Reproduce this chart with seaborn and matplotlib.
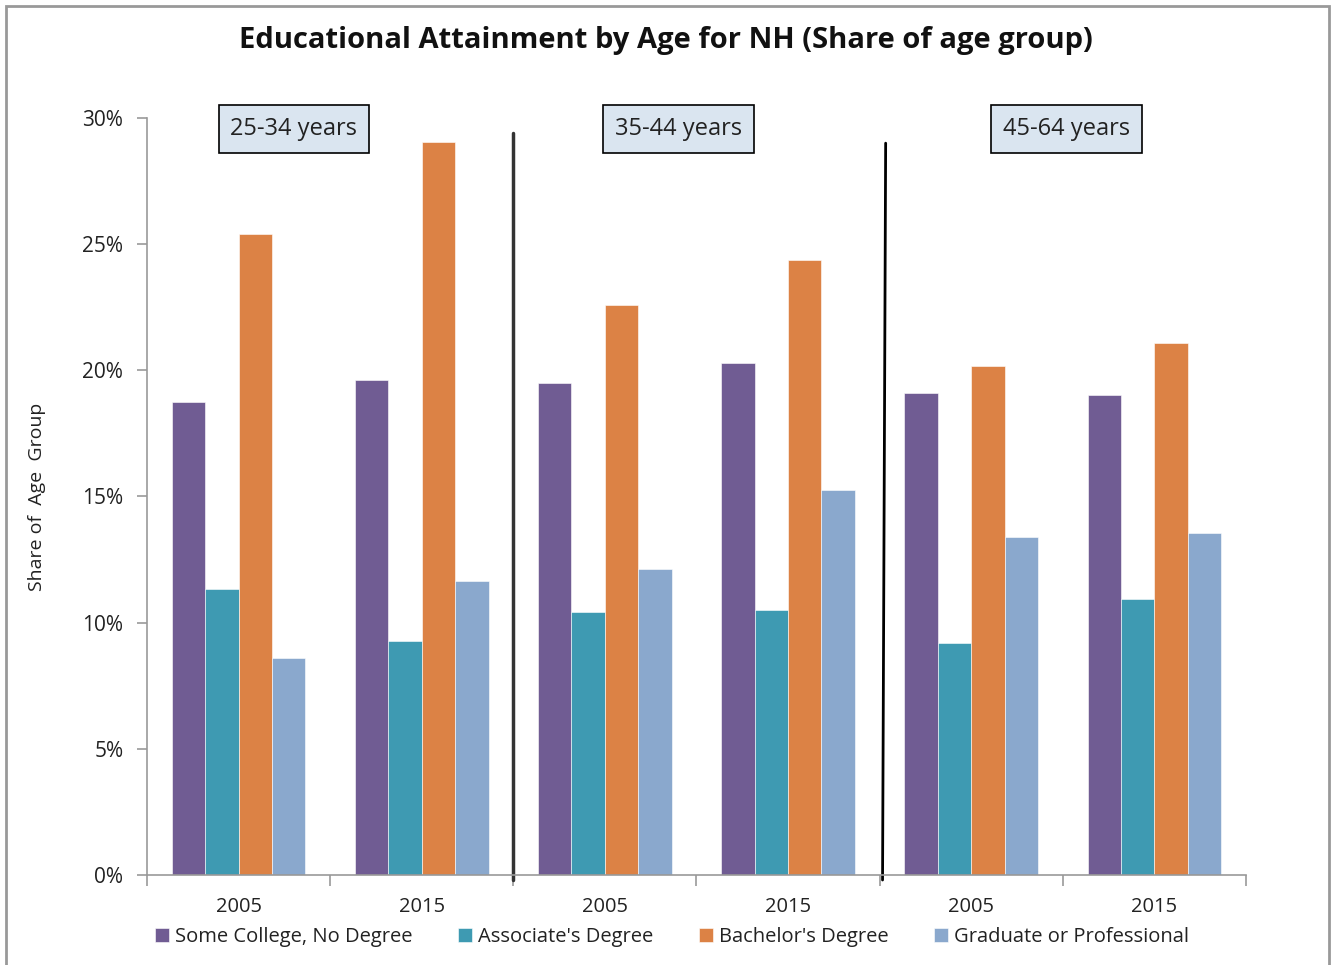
import numpy as np
import pandas as pd
import matplotlib
matplotlib.use("Agg")
import matplotlib.pyplot as plt
import seaborn as sns
from matplotlib.ticker import FuncFormatter, FixedLocator
from matplotlib.patches import Rectangle

# Data (share of age group, %)
age_groups = ["25-34 years", "35-44 years", "45-64 years"]
years = ["2005", "2015"]
series = ["Some College, No Degree", "Associate's Degree",
          "Bachelor's Degree", "Graduate or Professional"]

some_college = [18.75, 19.6, 19.5, 20.3, 19.1, 19.03]
associates = [11.33, 9.27, 10.41, 10.5, 9.21, 10.94]
bachelors = [25.4, 29.05, 22.58, 24.36, 20.17, 21.07]
graduate = [8.6, 11.65, 12.14, 15.26, 13.4, 13.54]

colors = ["#705c93", "#3e9ab2", "#dc8245", "#8aa8cd"]

categories = [f"{a}|{y}" for a in age_groups for y in years]
rows = []
for name, vals in zip(series, [some_college, associates, bachelors, graduate]):
    for cat, v in zip(categories, vals):
        rows.append({"category": cat, "series": name, "value": v})
df = pd.DataFrame(rows)

sns.set_style("white")
plt.rcParams['font.family'] = ['Open Sans', 'DejaVu Sans']

fig = plt.figure(figsize=(13.31, 9.65), dpi=100)
ax = fig.add_axes([0.1104, 0.0933, 0.8257, 0.7845])

sns.barplot(data=df, x="category", y="value", hue="series", order=categories,
            hue_order=series, palette=colors, width=0.73, saturation=1,
            edgecolor="white", linewidth=0.4, ax=ax)

ax.set_ylim(0, 30)
ax.set_xlim(-0.5, len(categories) - 0.5)
ax.yaxis.set_major_locator(FixedLocator(np.arange(0, 31, 5)))
ax.yaxis.set_major_formatter(FuncFormatter(lambda v, p: f"{v:.0f}%"))

# year labels centred, tick marks at the category boundaries
ax.set_xticks(range(len(categories)))
ax.set_xticklabels([c.split("|")[1] for c in categories])
ax.set_xticks(np.arange(-0.5, len(categories), 1), minor=True)
ax.tick_params(bottom=True, left=True, which="both")
ax.tick_params(axis="x", which="major", length=0, pad=16, labelsize=14.5, colors="#222222")
ax.tick_params(axis="x", which="minor", length=8, width=1.2, color="#999999", direction="out")
ax.tick_params(axis="y", length=7, width=1.2, color="#999999", direction="out",
               labelsize=15, labelcolor="#222222", pad=10)

for side in ["top", "right"]:
    ax.spines[side].set_visible(False)
for side in ["left", "bottom"]:
    ax.spines[side].set_color("#999999")
    ax.spines[side].set_linewidth(1.2)

ax.set_xlabel("")
ax.set_ylabel("Share of  Age  Group", fontsize=14, color="#222222", labelpad=26)

# separators between age groups
ax.plot([1.5, 1.5], [29.4, -0.2], color="#333333", lw=2.5, clip_on=False)
ax.plot([3.533, 3.516], [29.0, -0.2], color="black", lw=2, clip_on=False)

# age group boxes
for label, xc in zip(age_groups, [0.1338, 0.484, 0.837]):
    ax.text(xc, 0.985, label, transform=ax.transAxes, ha="center", va="center",
            fontsize=17, color="#222222",
            bbox=dict(boxstyle="square,pad=0.5", facecolor="#dae5f0",
                      edgecolor="black", linewidth=1.2))

fig.suptitle("Educational Attainment by Age for NH (Share of age group)",
             x=0.5, y=0.973, fontsize=21, fontweight="bold", color="#111111")

handles, labels = ax.get_legend_handles_labels()
ax.legend(handles, labels, loc="upper center", bbox_to_anchor=(0.478, -0.045),
          ncol=4, frameon=False, fontsize=14.5, handlelength=0.7, handleheight=0.7,
          handletextpad=0.3, columnspacing=2.25, labelcolor="#222222")

# outer frame
fig.patches.append(Rectangle((0.0045, -0.01), 0.994, 1.004, transform=fig.transFigure,
                             fill=False, edgecolor="#999999", linewidth=2))

fig.savefig("out.png", dpi=100)
